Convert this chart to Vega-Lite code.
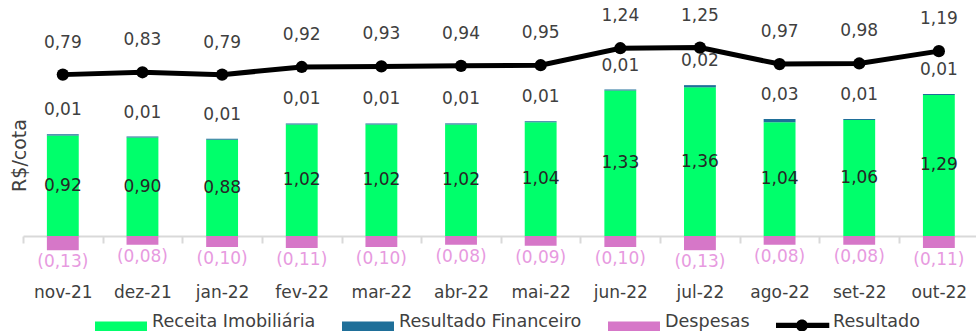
{
  "$schema": "https://vega.github.io/schema/vega-lite/v6.json",
  "width": 955.7,
  "height": 231,
  "padding": {"left": 11, "top": 5, "right": 0, "bottom": 0},
  "config": {
    "font": "DejaVu Sans",
    "view": {"stroke": null},
    "locale": {"number": {"decimal": ",", "thousands": ".", "grouping": [3], "currency": ["R$ ", ""]}},
    "axis": {"grid": false},
    "axisX": {"title": null, "labelAngle": 0, "labelFontSize": 17, "labelColor": "#404040", "labelFont": "DejaVu Sans", "domainColor": "#d9d9d9", "domainWidth": 2, "tickColor": "#d9d9d9", "tickWidth": 2, "tickSize": 7, "tickBand": "extent", "labelPadding": 42},
    "axisY": {"labels": false, "ticks": false, "domain": false, "grid": false, "titleFontSize": 19, "titleFontWeight": "normal", "titleColor": "#404040", "titlePadding": -7, "titleY": 150, "titleFont": "DejaVu Sans"},
    "text": {"fontSize": 17, "color": "#404040"}
  },
  "datasets": {
    "barras": [
      {"mes": "nov-21", "serie": "Receita Imobiliária", "valor": 0.92},
      {"mes": "dez-21", "serie": "Receita Imobiliária", "valor": 0.90},
      {"mes": "jan-22", "serie": "Receita Imobiliária", "valor": 0.88},
      {"mes": "fev-22", "serie": "Receita Imobiliária", "valor": 1.02},
      {"mes": "mar-22", "serie": "Receita Imobiliária", "valor": 1.02},
      {"mes": "abr-22", "serie": "Receita Imobiliária", "valor": 1.02},
      {"mes": "mai-22", "serie": "Receita Imobiliária", "valor": 1.04},
      {"mes": "jun-22", "serie": "Receita Imobiliária", "valor": 1.33},
      {"mes": "jul-22", "serie": "Receita Imobiliária", "valor": 1.36},
      {"mes": "ago-22", "serie": "Receita Imobiliária", "valor": 1.04},
      {"mes": "set-22", "serie": "Receita Imobiliária", "valor": 1.06},
      {"mes": "out-22", "serie": "Receita Imobiliária", "valor": 1.29},
      {"mes": "nov-21", "serie": "Resultado Financeiro", "valor": 0.01},
      {"mes": "dez-21", "serie": "Resultado Financeiro", "valor": 0.01},
      {"mes": "jan-22", "serie": "Resultado Financeiro", "valor": 0.01},
      {"mes": "fev-22", "serie": "Resultado Financeiro", "valor": 0.01},
      {"mes": "mar-22", "serie": "Resultado Financeiro", "valor": 0.01},
      {"mes": "abr-22", "serie": "Resultado Financeiro", "valor": 0.01},
      {"mes": "mai-22", "serie": "Resultado Financeiro", "valor": 0.01},
      {"mes": "jun-22", "serie": "Resultado Financeiro", "valor": 0.01},
      {"mes": "jul-22", "serie": "Resultado Financeiro", "valor": 0.02},
      {"mes": "ago-22", "serie": "Resultado Financeiro", "valor": 0.03},
      {"mes": "set-22", "serie": "Resultado Financeiro", "valor": 0.01},
      {"mes": "out-22", "serie": "Resultado Financeiro", "valor": 0.01},
      {"mes": "nov-21", "serie": "Despesas", "valor": -0.13},
      {"mes": "dez-21", "serie": "Despesas", "valor": -0.08},
      {"mes": "jan-22", "serie": "Despesas", "valor": -0.10},
      {"mes": "fev-22", "serie": "Despesas", "valor": -0.11},
      {"mes": "mar-22", "serie": "Despesas", "valor": -0.10},
      {"mes": "abr-22", "serie": "Despesas", "valor": -0.08},
      {"mes": "mai-22", "serie": "Despesas", "valor": -0.09},
      {"mes": "jun-22", "serie": "Despesas", "valor": -0.10},
      {"mes": "jul-22", "serie": "Despesas", "valor": -0.13},
      {"mes": "ago-22", "serie": "Despesas", "valor": -0.08},
      {"mes": "set-22", "serie": "Despesas", "valor": -0.08},
      {"mes": "out-22", "serie": "Despesas", "valor": -0.11}
    ],
    "linha": [
      {"mes": "nov-21", "resultado": 0.79},
      {"mes": "dez-21", "resultado": 0.83},
      {"mes": "jan-22", "resultado": 0.79},
      {"mes": "fev-22", "resultado": 0.92},
      {"mes": "mar-22", "resultado": 0.93},
      {"mes": "abr-22", "resultado": 0.94},
      {"mes": "mai-22", "resultado": 0.95},
      {"mes": "jun-22", "resultado": 1.24},
      {"mes": "jul-22", "resultado": 1.25},
      {"mes": "ago-22", "resultado": 0.97},
      {"mes": "set-22", "resultado": 0.98},
      {"mes": "out-22", "resultado": 1.19}
    ]
  },
  "encoding": {
    "x": {
      "field": "mes", "type": "nominal",
      "scale": {"domain": ["nov-21", "dez-21", "jan-22", "fev-22", "mar-22", "abr-22", "mai-22", "jun-22", "jul-22", "ago-22", "set-22", "out-22"], "paddingInner": 0, "paddingOuter": 0}
    }
  },
  "layer": [
    {
      "data": {"name": "barras"},
      "layer": [
        {
          "mark": {"type": "bar", "width": {"band": 0.4}},
          "encoding": {
            "y": {"field": "valor", "type": "quantitative", "title": "R$/cota", "scale": {"domain": [0, 2.113], "nice": false, "zero": false}},
            "order": {"field": "serie", "sort": "ascending"},
            "color": {
              "field": "serie", "type": "nominal",
              "scale": {"domain": ["Receita Imobiliária", "Resultado Financeiro", "Despesas", "Resultado"], "range": ["#00FF6B", "#1F6F99", "#D677C8", "#000000"]},
              "legend": {
                "orient": "none", "legendX": 72, "legendY": 307, "direction": "horizontal", "title": null,
                "labelFontSize": 17.6, "labelColor": "#404040", "labelFont": "DejaVu Sans",
                "symbolSize": 2704, "labelOffset": 5, "columnPadding": 26, "clipHeight": 20, "labelLimit": 400,
                "encode": {
                  "symbols": {
                    "update": {
                      "shape": {"signal": "datum.value === 'Resultado' ? 'M-1.05,0.03H1.05V0.23H-1.05Z M-0.23,0.13A0.23,0.23 0 1 1 0.23,0.13A0.23,0.23 0 1 1 -0.23,0.13Z' : 'M-1,-0.02H1V0.44H-1Z'"},
                      "fill": {"signal": "scale('color', datum.value)"},
                      "stroke": {"value": "transparent"},
                      "strokeWidth": {"value": 0},
                      "opacity": {"value": 1}
                    }
                  }
                }
              }
            }
          }
        },
        {
          "transform": [{"filter": "datum.serie === 'Receita Imobiliária'"}],
          "mark": {"type": "text", "baseline": "middle", "color": "#262626"},
          "encoding": {
            "y": {"field": "valor", "type": "quantitative", "title": "R$/cota", "stack": "zero", "bandPosition": 0.5},
            "text": {"field": "valor", "type": "quantitative", "format": ".2f"}
          }
        },
        {
          "transform": [
            {"filter": "datum.serie !== 'Despesas'"},
            {"stack": "valor", "groupby": ["mes"], "sort": [{"field": "serie", "order": "ascending"}], "as": ["v0", "v1"]},
            {"filter": "datum.serie === 'Resultado Financeiro'"}
          ],
          "mark": {"type": "text", "baseline": "middle", "dy": -24},
          "encoding": {
            "y": {"field": "v1", "type": "quantitative", "title": "R$/cota"},
            "text": {"field": "valor", "type": "quantitative", "format": ".2f"}
          }
        },
        {
          "transform": [{"filter": "datum.serie === 'Despesas'"}],
          "mark": {"type": "text", "baseline": "middle", "dy": 12, "color": "#E79AE0"},
          "encoding": {
            "y": {"field": "valor", "type": "quantitative", "title": "R$/cota"},
            "text": {"field": "valor", "type": "quantitative", "format": "(.2f"}
          }
        }
      ]
    },
    {
      "data": {"name": "linha"},
      "encoding": {
        "y": {"field": "resultado", "type": "quantitative", "axis": null, "scale": {"domain": [-1.959, 1.976], "nice": false, "zero": false}}
      },
      "layer": [
        {
          "mark": {"type": "line", "strokeWidth": 5, "point": {"filled": true, "size": 150}},
          "encoding": {"color": {"datum": "Resultado", "type": "nominal"}}
        },
        {
          "mark": {"type": "text", "baseline": "middle", "dy": -32},
          "encoding": {"text": {"field": "resultado", "type": "quantitative", "format": ".2f"}}
        }
      ]
    }
  ],
  "resolve": {"scale": {"y": "independent"}}
}
